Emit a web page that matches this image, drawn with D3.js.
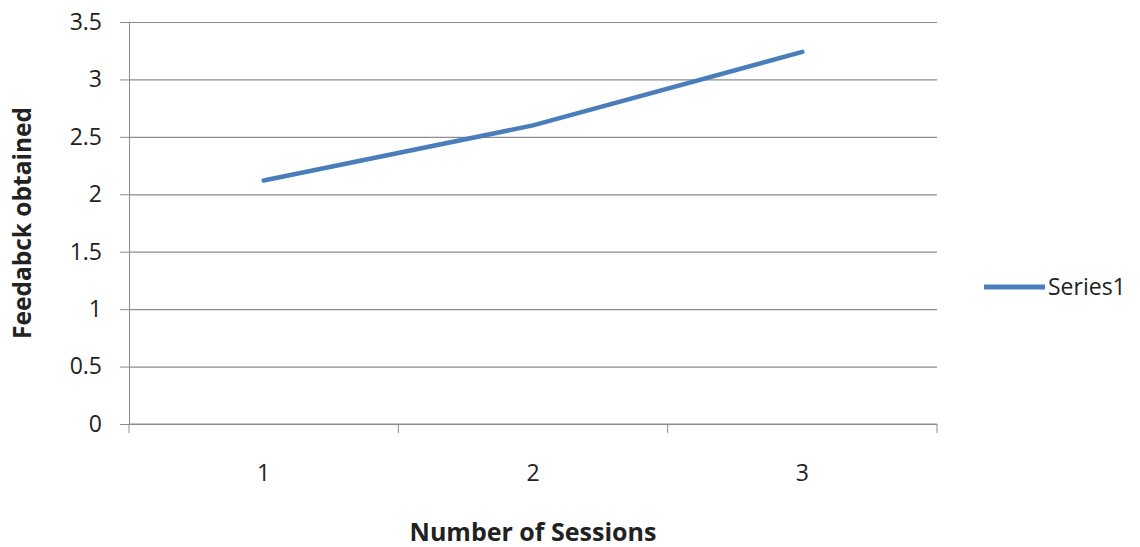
<!DOCTYPE html>
<html>
<head>
<meta charset="utf-8">
<script src="https://cdn.jsdelivr.net/npm/d3@7"></script>
<style>
  html, body { margin: 0; padding: 0; background: #fff; }
  svg { display: block; }
  text { font-family: "Open Sans", "Liberation Sans", sans-serif; fill: #222; }
</style>
</head>
<body>
<svg id="chart" width="1140" height="547"></svg>
<script>
// Feedback score per session
const sessions = ["1", "2", "3"];
const feedback = [2.12, 2.60, 3.24];
const yTicks = [0, 0.5, 1, 1.5, 2, 2.5, 3, 3.5];
const seriesName = "Series1";

const svg = d3.select("#chart");
const plot = { left: 129, right: 937, top: 22, bottom: 424 };

const x = d3.scaleBand().domain(sessions).range([plot.left, plot.right]);
const y = d3.scaleLinear().domain([0, 3.5]).range([plot.bottom, plot.top]);

const gridColor = "#8c8c8c";
const lineColor = "#4a7ebb";
const tickFont = 23;

// horizontal gridlines with outward ticks
const yAxis = svg.append("g")
  .attr("transform", `translate(${plot.left},0)`)
  .call(d3.axisLeft(y).tickValues(yTicks).tickSize(9).tickPadding(18)
    .tickFormat(d => d3.format("~g")(d)));
yAxis.select(".domain").attr("stroke", gridColor);
yAxis.selectAll(".tick line").attr("stroke", gridColor);
yAxis.selectAll(".tick text").attr("font-size", tickFont).attr("fill", "#333");
yAxis.selectAll(".tick").append("line")
  .attr("x1", 0).attr("x2", plot.right - plot.left)
  .attr("stroke", gridColor).attr("stroke-width", 1.2);

// category axis with ticks at band boundaries
const xAxis = svg.append("g")
  .attr("transform", `translate(0,${plot.bottom})`);
xAxis.append("line")
  .attr("x1", plot.left).attr("x2", plot.right)
  .attr("stroke", gridColor).attr("stroke-width", 1.2);
const bounds = sessions.map(s => x(s)).concat([x(sessions[sessions.length - 1]) + x.bandwidth()]);
xAxis.selectAll("line.bt").data(bounds).join("line")
  .attr("class", "bt")
  .attr("x1", d => d).attr("x2", d => d)
  .attr("y1", 0).attr("y2", 9)
  .attr("stroke", gridColor);
xAxis.selectAll("text.cat").data(sessions).join("text")
  .attr("class", "cat")
  .attr("x", d => x(d) + x.bandwidth() / 2)
  .attr("y", 57)
  .attr("text-anchor", "middle")
  .attr("font-size", tickFont).attr("fill", "#333")
  .text(d => d);

// the series line
const line = d3.line()
  .x((d, i) => x(sessions[i]) + x.bandwidth() / 2)
  .y(d => y(d));
svg.append("path")
  .datum(feedback)
  .attr("d", line)
  .attr("fill", "none")
  .attr("stroke", lineColor)
  .attr("stroke-width", 4.5)
  .attr("stroke-linecap", "round");

// axis titles
svg.append("text")
  .attr("transform", `translate(31,${(plot.top + plot.bottom) / 2}) rotate(-90)`)
  .attr("text-anchor", "middle")
  .attr("font-size", 24.5).attr("font-weight", "bold")
  .text("Feedabck obtained");
svg.append("text")
  .attr("x", (plot.left + plot.right) / 2)
  .attr("y", 541)
  .attr("text-anchor", "middle")
  .attr("font-size", 25).attr("font-weight", "bold")
  .text("Number of Sessions");

// legend
const legend = svg.append("g").attr("transform", "translate(984,287)");
legend.append("line")
  .attr("x1", 0).attr("x2", 61)
  .attr("stroke", lineColor).attr("stroke-width", 5);
legend.append("text")
  .attr("x", 64).attr("y", 8)
  .attr("font-size", tickFont).attr("fill", "#333")
  .text(seriesName);
</script>
</body>
</html>
